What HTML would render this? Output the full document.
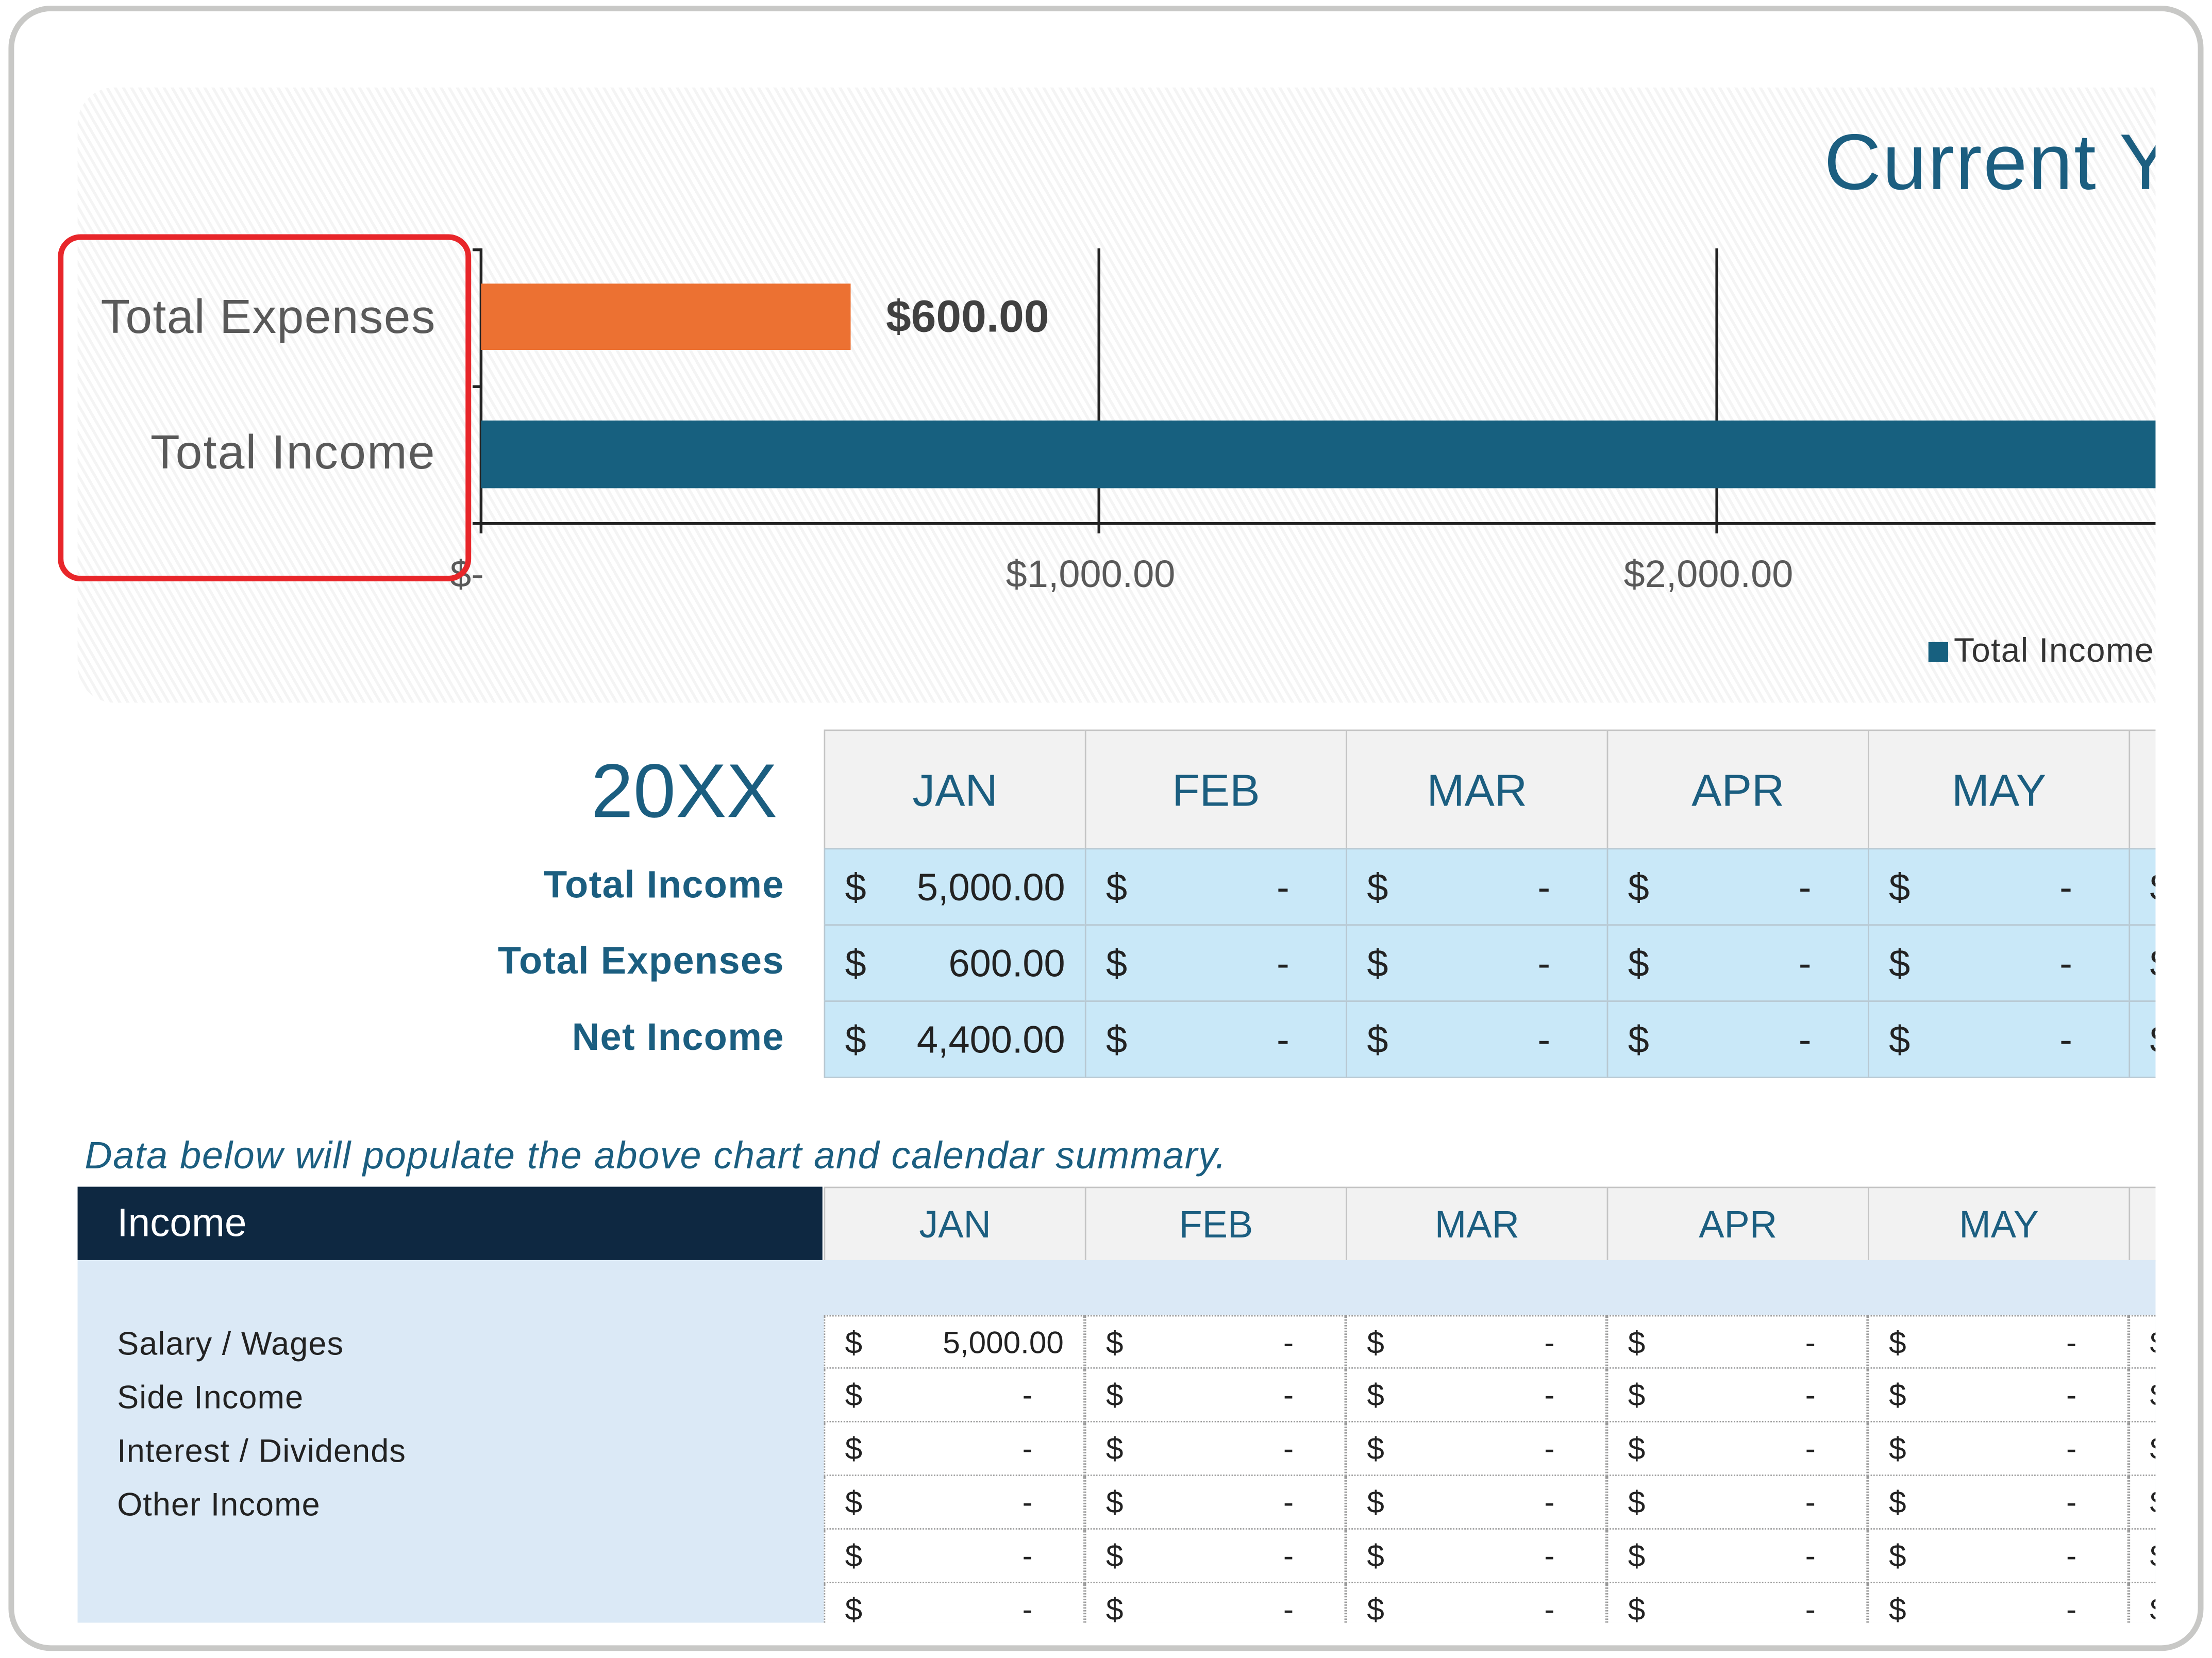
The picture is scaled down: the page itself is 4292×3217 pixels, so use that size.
<!DOCTYPE html>
<html><head><meta charset="utf-8"><style>
html,body{margin:0;padding:0;background:#fff;}
body{width:4292px;height:3217px;overflow:hidden;position:relative;}
#s{position:absolute;left:0;top:0;width:1568px;height:1175px;transform:scale(2.7372,2.7379);transform-origin:0 0;font-family:"Liberation Sans",sans-serif;}
.a{position:absolute;}
.frame{left:6px;top:4px;width:1548px;height:1158px;border:4px solid #c8c8c6;border-radius:30px;}
.clip{left:0;top:0;width:1528px;height:1150px;overflow:hidden;}
.chart{left:55px;top:62px;width:1520px;height:436px;border-radius:26px;background:repeating-linear-gradient(60deg,#f4f4f4 0 2px,#fff 2px 5px);}
.t{white-space:nowrap;}
.cell{position:absolute;box-sizing:border-box;}
.hd{background:#f2f2f2;border:1px solid #c4c4c4;color:#1b5e80;text-align:center;}
.bl{background:#c9e8f8;border:1px solid #b8c8d2;color:#222;font-size:27px;}
.bl .d,.wt .d{position:absolute;left:14px;}
.bl .v,.wt .v{position:absolute;right:14px;}
.wt{background:#fff;border-right:1px dotted #999;border-bottom:1px dotted #999;color:#222;font-size:22px;}
.lab{position:absolute;right:0;font-weight:bold;color:#1b5e80;font-size:27px;text-align:right;letter-spacing:0.5px;}
</style></head><body><div id="s">
<div class="a frame"></div>
<div class="a clip">
 <div class="a chart"></div>
 <div class="a t" style="left:1293px;top:82px;font-size:56px;color:#1b5e80;letter-spacing:1px;">Current Year</div>
 <div class="a" style="left:778px;top:176px;width:1.5px;height:202px;background:#222"></div>
 <div class="a" style="left:1216px;top:176px;width:1.5px;height:202px;background:#222"></div>
 <div class="a" style="left:340px;top:176px;width:1.5px;height:202px;background:#222"></div>
 <div class="a" style="left:335px;top:176px;width:6px;height:1.5px;background:#222"></div>
 <div class="a" style="left:335px;top:273px;width:6px;height:1.5px;background:#222"></div>
 <div class="a" style="left:335px;top:370px;width:1200px;height:1.5px;background:#222"></div>
 <div class="a" style="left:341px;top:201px;width:262px;height:47px;background:#ec7132"></div>
 <div class="a" style="left:341px;top:298px;width:1200px;height:48px;background:#17607f"></div>
 <div class="a t" style="left:628px;top:206px;font-size:32px;font-weight:bold;color:#404040;">$600.00</div>
 <div class="a t" style="right:1219px;top:206px;font-size:34px;color:#595959;letter-spacing:0.5px;">Total Expenses</div>
 <div class="a t" style="right:1219px;top:302px;font-size:34px;color:#595959;letter-spacing:0.8px;">Total Income</div>
 <div class="a t" style="left:319px;top:392px;font-size:27px;color:#595959;">$-</div>
 <div class="a t" style="left:713px;top:392px;font-size:27px;color:#595959;">$1,000.00</div>
 <div class="a t" style="left:1151px;top:392px;font-size:27px;color:#595959;">$2,000.00</div>
 <div class="a" style="left:1367px;top:455px;width:14px;height:14px;background:#17607f"></div>
 <div class="a t" style="left:1385px;top:448px;font-size:24px;color:#333;letter-spacing:0.5px;">Total Income</div>
 <div class="a" style="left:41px;top:166px;width:285px;height:238px;border:4px solid #e8262a;border-radius:16px;"></div>

 <div class="a t" style="right:977px;top:530px;font-size:54px;color:#1b5e80;">20XX</div>
 <div class="a" style="left:0;top:0;width:556px;height:770px;">
  <div class="lab t" style="top:612px;">Total Income</div>
  <div class="lab t" style="top:666px;">Total Expenses</div>
  <div class="lab t" style="top:720px;">Net Income</div>
 </div>
 <div id="tb1"></div>
 <div class="a t" style="left:60px;top:804px;font-size:27px;font-style:italic;color:#1b5e80;letter-spacing:0.6px;">Data below will populate the above chart and calendar summary.</div>
 <div class="a" style="left:55px;top:841px;width:528px;height:52px;background:#0e2841"></div>
 <div class="a t" style="left:83px;top:851px;font-size:28px;color:#fff;">Income</div>
 <div class="a" style="left:55px;top:893px;width:1480px;height:257px;background:#dbe9f6"></div>
 <div class="a t" style="left:83px;top:939px;font-size:23px;color:#222;letter-spacing:0.4px;">Salary / Wages</div>
 <div class="a t" style="left:83px;top:977px;font-size:23px;color:#222;letter-spacing:0.4px;">Side Income</div>
 <div class="a t" style="left:83px;top:1015px;font-size:23px;color:#222;letter-spacing:0.4px;">Interest / Dividends</div>
 <div class="a t" style="left:83px;top:1053px;font-size:23px;color:#222;letter-spacing:0.4px;">Other Income</div>
 <div id="tb2"></div>
</div>
</div>
<script>
var m=["JAN","FEB","MAR","APR","MAY","JUN"],h="",h2="";
for(var i=0;i<6;i++){var x=584+185*i;
 h+='<div class="cell hd" style="left:'+x+'px;top:517px;width:186px;height:85px;font-size:32px;line-height:84px">'+m[i]+'</div>';
 var v=i==0?["5,000.00","600.00","4,400.00"]:["-","-","-"];
 for(var r=0;r<3;r++){var y=601+54*r;
  h+='<div class="cell bl" style="left:'+x+'px;top:'+y+'px;width:186px;height:55px;line-height:54px"><span class="d">$</span><span class="v"'+(i>0?' style="right:40px"':'')+'>'+v[r]+'</span></div>';}
 h+='<div class="cell hd" style="left:'+x+'px;top:841px;width:186px;height:53px;font-size:27px;line-height:52px">'+m[i]+'</div>';
 for(var r=0;r<6;r++){var y=932+38*r;var vv=(i==0&&r==0)?"5,000.00":"-";
  h2+='<div class="cell wt" style="left:'+x+'px;top:'+y+'px;width:185px;height:38px;line-height:38px;border-left:1px dotted #999;'+(r==0?'border-top:1px dotted #999;':'')+'"><span class="d">$</span><span class="v"'+(vv=="-"?' style="right:36px"':'')+'>'+vv+'</span></div>';}
}
document.getElementById("tb1").innerHTML=h;
document.getElementById("tb2").innerHTML=h2;
</script>
</body></html>
